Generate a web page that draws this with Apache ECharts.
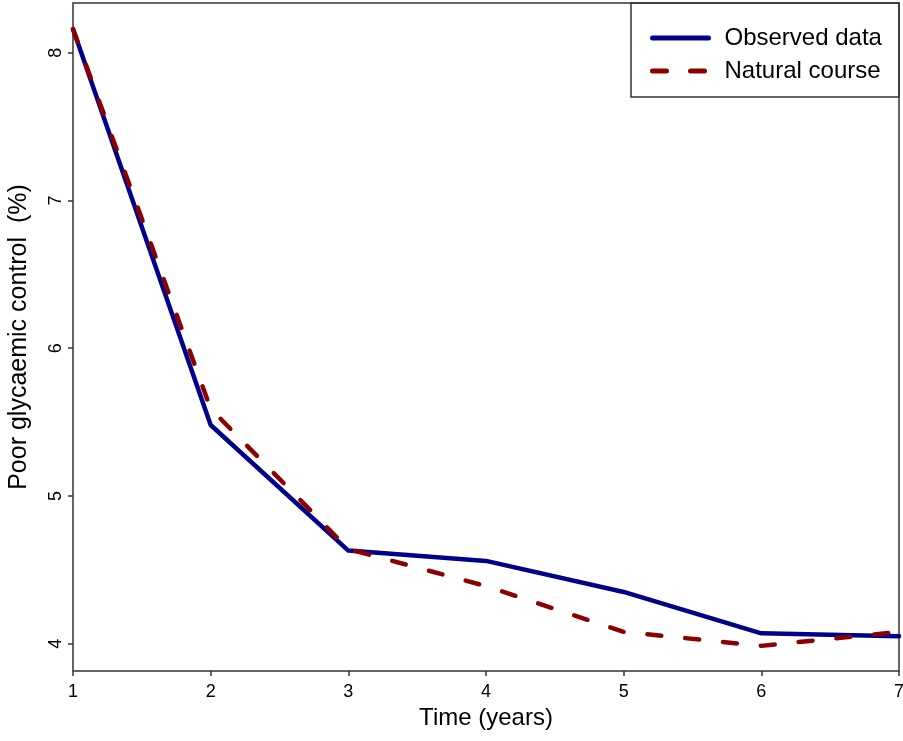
<!DOCTYPE html>
<html>
<head>
<meta charset="utf-8">
<script src="https://cdn.jsdelivr.net/npm/echarts@6/dist/echarts.min.js"></script>
<style>html,body{margin:0;padding:0;background:#fff;}#c{width:903px;height:741px;}</style>
</head>
<body>
<div id="c"></div>
<script>
const years = [1, 2, 3, 4, 5, 6, 7];
const observed = [8.16, 5.48, 4.63, 4.56, 4.35, 4.07, 4.05];
const natural = [8.16, 5.59, 4.64, 4.39, 4.08, 3.985, 4.08];
const yTicks = [4, 5, 6, 7, 8];
const xTicks = [1, 2, 3, 4, 5, 6, 7];

const font = "'Liberation Sans', Arial, sans-serif";
const chart = echarts.init(document.getElementById('c'), null, {renderer: 'canvas'});
chart.setOption({
  animation: false,
  backgroundColor: '#fff',
  grid: {left: 73, right: 4, top: 3, bottom: 70, show: true, borderColor: '#333', borderWidth: 1.5,
         containLabel: false, outerBoundsMode: 'none'},
  xAxis: {
    type: 'value', min: 1, max: 7, interval: 1,
    name: 'Time (years)', nameLocation: 'middle', nameGap: 34,
    nameTextStyle: {fontFamily: font, fontSize: 24, color: '#000'},
    axisLine: {show: false},
    axisTick: {show: true, length: 5, lineStyle: {color: '#333', width: 1.5}, customValues: xTicks},
    axisLabel: {fontFamily: font, fontSize: 18, color: '#000', margin: 12, customValues: xTicks},
    splitLine: {show: false}
  },
  yAxis: {
    type: 'value', min: 3.815, max: 8.336,
    name: 'Poor glycaemic control  (%)', nameLocation: 'middle', nameGap: 41,
    nameTextStyle: {fontFamily: font, fontSize: 25, color: '#000'},
    axisLine: {show: false},
    axisTick: {show: true, length: 5, lineStyle: {color: '#333', width: 1.5}, customValues: yTicks},
    axisLabel: {fontFamily: font, fontSize: 18, color: '#000', margin: 8, rotate: 90, customValues: yTicks},
    splitLine: {show: false}
  },
  legend: {
    orient: 'vertical', left: 645, top: 21,
    itemWidth: 56, itemHeight: 14, itemGap: 9,
    itemStyle: {opacity: 0},
    lineStyle: {width: 5, cap: 'round'},
    textStyle: {fontFamily: font, fontSize: 24, lineHeight: 24, color: '#000', padding: [0, 0, 0, 11]},
    data: [{name: 'Observed data'}, {name: 'Natural course'}]
  },
  graphic: [{
    type: 'rect', z: 100, silent: true,
    shape: {x: 631, y: 3, width: 268, height: 94},
    style: {fill: 'none', stroke: '#333', lineWidth: 1.5}
  }],
  series: [
    {
      name: 'Observed data', type: 'line', symbol: 'none',
      data: years.map((x, i) => [x, observed[i]]),
      lineStyle: {color: '#00008B', width: 4.5, cap: 'round', join: 'round'},
      itemStyle: {color: '#00008B'}, z: 2
    },
    {
      name: 'Natural course', type: 'line', symbol: 'none',
      data: years.map((x, i) => [x, natural[i]]),
      lineStyle: {color: '#8B0000', width: 4.5, type: [14, 24], cap: 'round', join: 'round'},
      itemStyle: {color: '#8B0000'}, z: 3
    }
  ]
});
</script>
</body>
</html>
